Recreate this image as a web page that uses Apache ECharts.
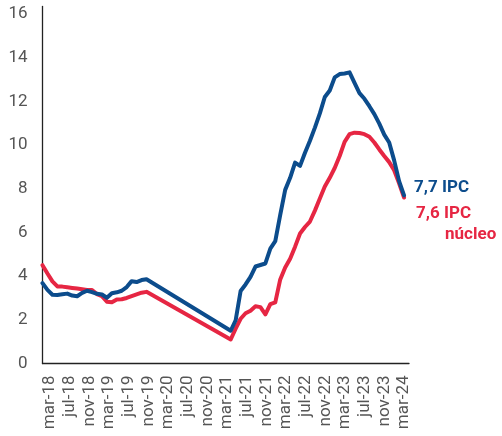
<!DOCTYPE html>
<html>
<head>
<meta charset="utf-8">
<script src="https://cdn.jsdelivr.net/npm/echarts@6/dist/echarts.min.js"></script>
<style>
  html, body { margin: 0; padding: 0; background: #fff; }
  #chart { width: 502px; height: 436px; }
</style>
</head>
<body>
<div id="chart"></div>
<script>
// meses ene-18 .. mar-24 (el último solo sirve de extremo del eje)
const months = [
  'ene-18','feb-18','mar-18','abr-18','may-18','jun-18','jul-18','ago-18','sep-18','oct-18','nov-18','dic-18',
  'ene-19','feb-19','mar-19','abr-19','may-19','jun-19','jul-19','ago-19','sep-19','oct-19','nov-19','dic-19',
  'ene-20','feb-20','mar-20','abr-20','may-20','jun-20','jul-20','ago-20','sep-20','oct-20','nov-20','dic-20',
  'ene-21','feb-21','mar-21','abr-21','may-21','jun-21','jul-21','ago-21','sep-21','oct-21','nov-21','dic-21',
  'ene-22','feb-22','mar-22','abr-22','may-22','jun-22','jul-22','ago-22','sep-22','oct-22','nov-22','dic-22',
  'ene-23','feb-23','mar-23','abr-23','may-23','jun-23','jul-23','ago-23','sep-23','oct-23','nov-23','dic-23',
  'ene-24','feb-24','mar-24'
];

const gap = [null, null, null, null, null, null, null, null, null, null, null, null];

const ipc = [
  3.68, 3.37, 3.15, 3.14, 3.17, 3.2, 3.11, 3.08, 3.23, 3.33, 3.27, 3.19,
  3.16, 3.01, 3.22, 3.26, 3.33, 3.5, 3.77, 3.73, 3.82, 3.86, null, null,
  ...gap,
  null, null, 1.5, 1.98, 3.32, 3.62, 3.97, 4.44, 4.51, 4.58, 5.26, 5.6,
  6.8, 7.95, 8.5, 9.2, 9.05, 9.65, 10.2, 10.8, 11.45, 12.2, 12.5, 13.1,
  13.25, 13.28, 13.33, 12.85, 12.38, 12.12, 11.78, 11.42, 10.98, 10.48, 10.12, 9.3,
  8.35, 7.7
];

const nucleo = [
  4.5, 4.12, 3.76, 3.53, 3.52, 3.49, 3.46, 3.43, 3.4, 3.37, 3.36, 3.18,
  3.08, 2.83, 2.8, 2.93, 2.94, 3.0, 3.08, 3.16, 3.24, 3.28, null, null,
  ...gap,
  null, null, 1.1, 1.6, 2.05, 2.3, 2.42, 2.62, 2.58, 2.25, 2.72, 2.8,
  3.85, 4.4, 4.8, 5.35, 5.95, 6.25, 6.5, 7.0, 7.55, 8.1, 8.5, 8.95,
  9.5, 10.15, 10.5, 10.57, 10.55, 10.5, 10.38, 10.12, 9.8, 9.5, 9.22, 8.85,
  8.25, 7.6
];

const BLUE = '#0c4c8c';
const RED = '#e62643';
const axisColor = '#222222';
const labelColor = '#555555';

const fmt = (v) => v.toFixed(1).replace('.', ',');

const chart = echarts.init(document.getElementById('chart'), null, { renderer: 'canvas' });

const option = {
  animation: false,
  grid: [
    { left: 42.5, right: 93, top: 6.4, bottom: 72.5 },
    // rejilla solo para las etiquetas de meses
    { left: 40.2, right: 98, top: 6.4, bottom: 72.5 }
  ],
  xAxis: [
    {
      type: 'category',
      data: months,
      boundaryGap: false,
      axisLine: { lineStyle: { color: axisColor, width: 1.3 } },
      axisTick: { show: false },
      axisLabel: { show: false },
      splitLine: { show: false }
    },
    {
      type: 'category',
      gridIndex: 1,
      data: months,
      boundaryGap: false,
      axisLine: { show: false },
      axisTick: { show: false },
      splitLine: { show: false },
      axisLabel: {
        interval: (i) => i % 4 === 2,
        rotate: 90,
        margin: 12,
        fontSize: 17,
        fontFamily: 'Roboto',
        color: labelColor
      }
    }
  ],
  yAxis: [
    {
      type: 'value',
      min: 0,
      max: 16.35,
      interval: 2,
      axisLine: { show: true, lineStyle: { color: axisColor, width: 1.3 } },
      axisTick: { show: false },
      splitLine: { show: false },
      axisLabel: {
        margin: 15,
        fontSize: 17,
        fontFamily: 'Roboto',
        color: labelColor,
        formatter: (v) => (v % 2 === 0 ? String(v) : '')
      }
    },
    { type: 'value', gridIndex: 1, show: false }
  ],
  series: [
    {
      name: 'IPC',
      type: 'line',
      data: ipc,
      connectNulls: true,
      symbol: 'none',
      lineStyle: { color: BLUE, width: 4, cap: 'round', join: 'round' },
      itemStyle: { color: BLUE },
      z: 3,
      endLabel: {
        show: true,
        distance: 0,
        offset: [10, -8],
        formatter: (p) => fmt(p.value) + ' IPC',
        color: BLUE,
        fontWeight: 'bold',
        fontSize: 17,
        fontFamily: 'Roboto'
      }
    },
    {
      name: 'IPC núcleo',
      type: 'line',
      data: nucleo,
      connectNulls: true,
      symbol: 'none',
      lineStyle: { color: RED, width: 4, cap: 'round', join: 'round' },
      itemStyle: { color: RED },
      z: 2,
      endLabel: {
        show: true,
        distance: 0,
        offset: [12, 27],
        formatter: (p) => '{a|' + fmt(p.value) + ' IPC}\n{b|núcleo}',
        rich: {
          a: { color: RED, fontWeight: 'bold', fontSize: 17, fontFamily: 'Roboto', lineHeight: 21 },
          b: { color: RED, fontWeight: 'bold', fontSize: 17, fontFamily: 'Roboto', lineHeight: 21, padding: [0, 0, 0, 29] }
        }
      }
    }
  ]
};

chart.setOption(option);
</script>
</body>
</html>
